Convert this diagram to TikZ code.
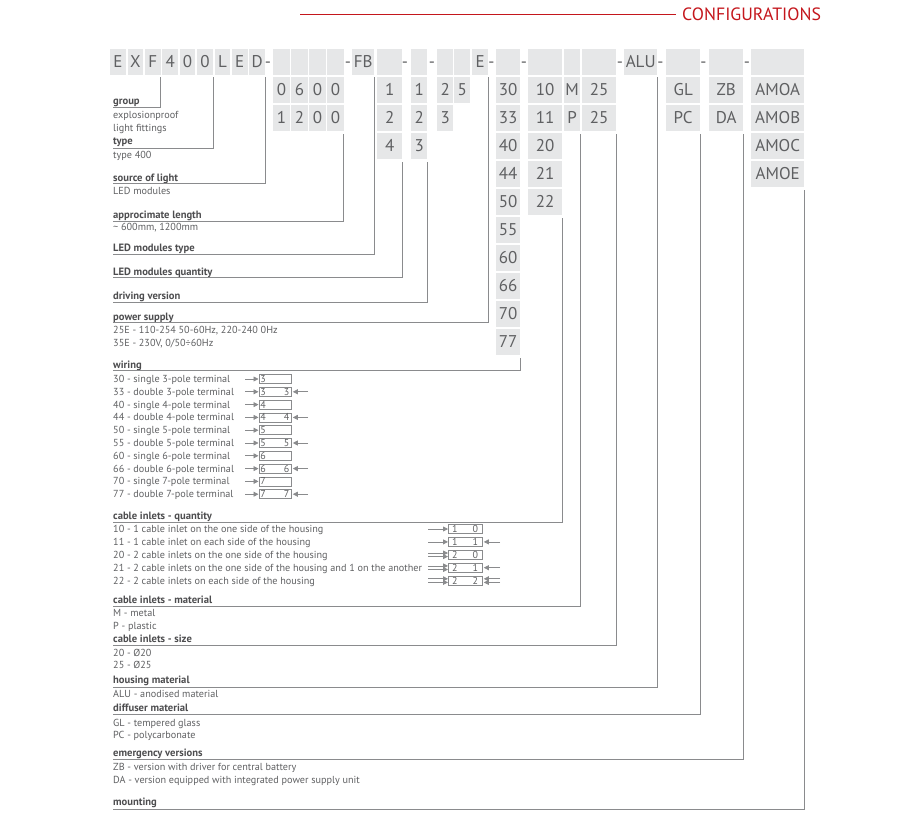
\documentclass[tikz,border=0pt]{standalone}
\usepackage{fontspec}
\setmainfont{PT Sans}
\usetikzlibrary{arrows.meta}
\definecolor{txt}{HTML}{5F6062}
\definecolor{hdtxt}{HTML}{4D4D4F}
\definecolor{boxc}{HTML}{E6E7E8}
\definecolor{lin}{HTML}{8A8B8D}
\definecolor{redc}{HTML}{C4161C}
\newcommand\cell[5]{\node[cell,minimum width=#3] (#1) at (#2,#4) {#5};}
\begin{document}
\begin{tikzpicture}[x=1pt,y=-1pt,
  cell/.style={fill=boxc,inner sep=0pt,minimum height=26,text height=11.5pt,text depth=0pt,anchor=north west,text=txt,font=\fontsize{17}{17}\selectfont},
  dashc/.style={anchor=base,inner sep=0pt,text=txt,font=\fontsize{17}{17}\selectfont},
  head/.style={anchor=base west,inner sep=0pt,text=hdtxt,font=\fontsize{10.6}{12}\selectfont\bfseries},
  desc/.style={anchor=base west,inner sep=0pt,text=txt,font=\fontsize{10.2}{12}\selectfont},
  conn/.style={draw=lin,line width=0.9pt},
  wbox/.style={draw=lin,line width=0.8pt,minimum width=32,minimum height=9,inner sep=0pt,anchor=west,text=txt,font=\fontsize{10}{10}\selectfont},
  cbox/.style={wbox,minimum width=33.5},
  arr/.style={draw=lin,line width=0.8pt,-{Triangle[length=5pt,width=5pt]}},
]
\useasboundingbox (0,0) rectangle (905,832);

% title
\node[anchor=base west,inner sep=0pt,text=redc,font=\fontsize{17.8}{17.8}\selectfont] (conf) at (682,20.7) {CONFIGURATIONS};
\coordinate (rl) at (300,14);
\coordinate (re) at (676,14);
\draw[redc,line width=0.8pt] (rl) -- (re);

% header row
\foreach \c [count=\i from 0] in {E,X,F,4,0,0,L,E,D} {\cell{h\i}{110+17.4*\i}{15.6}{49}{\c}}
\foreach \i in {0,...,3} {\cell{hl\i}{273+18*\i}{16.5}{49}{}}
\foreach \c [count=\i from 0] in {0,6,0,0} {\cell{la\i}{273+18*\i}{16.5}{77}{\c}}
\foreach \c [count=\i from 0] in {1,2,0,0} {\cell{lb\i}{273+18*\i}{16.5}{105}{\c}}
\cell{hFB}{352}{22}{49}{FB}
\cell{hT}{377}{25}{49}{}
\foreach \c [count=\r] in {1,2,4} {\cell{T\r}{377}{25}{49+28*\r}{\c}}
\cell{hQ}{411}{16}{49}{}
\foreach \c [count=\r] in {1,2,3} {\cell{Q\r}{411}{16}{49+28*\r}{\c}}
\cell{hDa}{437}{16}{49}{}
\foreach \c [count=\r] in {2,3} {\cell{Da\r}{437}{16}{49+28*\r}{\c}}
\cell{hDb}{454}{16}{49}{}
\cell{Db1}{454}{16}{77}{5}
\cell{hE}{472}{16}{49}{E}
\cell{hW}{496}{24}{49}{}
\foreach \c [count=\r] in {30,33,40,44,50,55,60,66,70,77} {\cell{W\r}{496}{24}{49+28*\r}{\c}}
\cell{hC}{528}{34}{49}{}
\foreach \c [count=\r] in {10,11,20,21,22} {\cell{C\r}{528}{34}{49+28*\r}{\c}}
\cell{hM}{564}{16}{49}{}
\foreach \c [count=\r] in {M,P} {\cell{M\r}{564}{16}{49+28*\r}{\c}}
\cell{hS}{582}{34}{49}{}
\foreach \c [count=\r] in {25,25} {\cell{S\r}{582}{34}{49+28*\r}{\c}}
\cell{hALU}{624}{33}{49}{ALU}
\cell{hG}{666}{34}{49}{}
\foreach \c [count=\r] in {GL,PC} {\cell{G\r}{666}{34}{49+28*\r}{\c}}
\cell{hZ}{709}{34}{49}{}
\foreach \c [count=\r] in {ZB,DA} {\cell{Z\r}{709}{34}{49+28*\r}{\c}}
\cell{hA}{751}{53}{49}{}
\foreach \c [count=\r] in {AMOA,AMOB,AMOC,AMOE} {\cell{A\r}{751}{53}{49+28*\r}{\c}}

% dashes
\foreach \x [count=\i] in {268,348,405,432,491.5,524,620,660.5,703.5,747} {\node[dashc] (dash\i) at (\x,67.7) {-};}

% labels
\node[head] (tgroup) at (113,105) {group};
\node[desc] (tgroup1) at (113,119) {explosionproof};
\node[desc] (tgroup2) at (113,132) {light fittings};
\node[head] (ttype) at (113,145) {type};
\node[desc] (ttype1) at (113,158) {type 400};
\node[head] (tsrc) at (113,181) {source of light};
\node[desc] (tsrc1) at (113,194) {LED modules};
\node[head] (tlen) at (113,218) {approcimate length};
\node[desc] (tlen1) at (113,230) {\textasciitilde{} 600mm, 1200mm};
\node[head] (tledt) at (113,251) {LED modules type};
\node[head] (tledq) at (113,275) {LED modules quantity};
\node[head] (tdrv) at (113,299) {driving version};
\node[head] (tpow) at (113,320) {power supply};
\node[desc] (tpow1) at (113,333.5) {25E - 110-254 50-60Hz, 220-240 0Hz};
\node[desc] (tpow2) at (113,346.5) {35E - 230V, 0/50÷60Hz};
\node[head] (twir) at (113,368) {wiring};
\node[head] (tcq) at (113,519) {cable inlets - quantity};
\node[head] (tcm) at (113,603) {cable inlets - material};
\node[desc] (tcm1) at (113,616.5) {M - metal};
\node[desc] (tcm2) at (113,629) {P - plastic};
\node[head] (tcs) at (113,642) {cable inlets - size};
\node[desc] (tcs1) at (113,656) {20 - Ø20};
\node[desc] (tcs2) at (113,668.5) {25 - Ø25};
\node[head] (thm) at (113,683.5) {housing material};
\node[desc] (thm1) at (113,697) {ALU - anodised material};
\node[head] (tdm) at (113,711.5) {diffuser material};
\node[desc] (tdm1) at (113,726) {GL - tempered glass};
\node[desc] (tdm2) at (113,738.5) {PC - polycarbonate};
\node[head] (tem) at (113,756) {emergency versions};
\node[desc] (tem1) at (113,770.5) {ZB - version with driver for central battery};
\node[desc] (tem2) at (113,783.5) {DA - version equipped with integrated power supply unit};
\node[head] (tmnt) at (113,805.5) {mounting};

% wiring rows
\foreach \kk/\knd/\pp/\dbl [count=\i] in {30/single/3/0,33/double/3/1,40/single/4/0,44/double/4/1,50/single/5/0,55/double/5/1,60/single/6/0,66/double/6/1,70/single/7/0,77/double/7/1}{
  \pgfmathsetmacro\yb{379+12.8*(\i-1)}
  \node[desc] (wt\i) at (113,\yb+3.5) {\kk{} - \knd{} \pp-pole terminal};
  \node[wbox] (wb\i) at (258.5,\yb) {\hbox to 29pt{\pp\hfill\ifnum\dbl=1 \pp\fi}};
  \coordinate (wl\i) at (245,\yb);
  \draw[arr] (wl\i) -- (wb\i.west);
  \ifnum\dbl=1
    \coordinate (wr\i) at (308,\yb);
    \draw[arr] (wr\i) -- ([xshift=1.5pt]wb\i.east);
  \fi
}

% cable inlets rows
\foreach \kk/\dsc/\ld/\rd/\la/\ra [count=\i] in {
10/1 cable inlet on the one side of the housing/1/0/1/0,
11/1 cable inlet on each side of the housing/1/1/1/1,
20/2 cable inlets on the one side of the housing/2/0/2/0,
21/2 cable inlets on the one side of the housing and 1 on the another/2/1/2/1,
22/2 cable inlets on each side of the housing/2/2/2/2}{
  \pgfmathsetmacro\yc{529+12.9*(\i-1)}
  \node[desc] (ct\i) at (113,\yc+3.5) {\kk{} - \dsc};
  \node[cbox] (cb\i) at (448,\yc) {\hbox to 26pt{\ld\hfill\rd}};
  \coordinate (cl\i) at (428,\yc);
  \coordinate (cr\i) at (500,\yc);
  \ifnum\la=1
    \draw[arr] (cl\i) -- (cb\i.west);
  \else
    \draw[arr] ([yshift=1.8pt]cl\i) -- ([yshift=1.8pt]cb\i.west);
    \draw[arr] ([yshift=-1.8pt]cl\i) -- ([yshift=-1.8pt]cb\i.west);
  \fi
  \ifnum\ra=1
    \draw[arr] (cr\i) -- ([xshift=1.5pt]cb\i.east);
  \fi
  \ifnum\ra=2
    \draw[arr] ([yshift=1.8pt]cr\i) -- ([xshift=1.5pt,yshift=1.8pt]cb\i.east);
    \draw[arr] ([yshift=-1.8pt]cr\i) -- ([xshift=1.5pt,yshift=-1.8pt]cb\i.east);
  \fi
}

% connector end points
\coordinate (cgroup) at (113,107.5);
\coordinate (ctype) at (113,148);
\coordinate (csrc) at (113,183.5);
\coordinate (clen) at (113,221);
\coordinate (cledt) at (113,254);
\coordinate (cledq) at (113,277.5);
\coordinate (cdrv) at (113,302);
\coordinate (cpow) at (113,322.5);
\coordinate (cwir) at (113,370.5);
\coordinate (ccq) at (113,522);
\coordinate (ccm) at (113,606);
\coordinate (ccs) at (113,645.5);
\coordinate (chm) at (113,687);
\coordinate (cdm) at (113,714.5);
\coordinate (cem) at (113,759);
\coordinate (cmnt) at (113,809.5);

\draw[conn] ([yshift=-2pt]h2.south east) |- (cgroup);
\draw[conn] ([yshift=-2pt]h5.south east) |- (ctype);
\draw[conn] ([yshift=-2pt]h8.south east) |- (csrc);
\draw[conn] ([yshift=-3pt]lb3.south east) |- (clen);
\draw[conn] ([yshift=-2pt]hFB.south east) |- (cledt);
\draw[conn] ([yshift=-3pt]T3.south east) |- (cledq);
\draw[conn] ([yshift=-3pt]Q3.south east) |- (cdrv);
\draw[conn] ([yshift=-2pt]hE.south east) |- (cpow);
\draw[conn] ([yshift=-3pt]W10.south east) |- (cwir);
\draw[conn] ([yshift=-3pt]C5.south east) |- (ccq);
\draw[conn] ([yshift=-3pt]M2.south east) |- (ccm);
\draw[conn] ([yshift=-3pt]S2.south east) |- (ccs);
\draw[conn] ([yshift=-2pt]hALU.south east) |- (chm);
\draw[conn] ([yshift=-3pt]G2.south east) |- (cdm);
\draw[conn] ([yshift=-3pt]Z2.south east) |- (cem);
\draw[conn] ([yshift=-3pt]A4.south east) |- (cmnt);
\end{tikzpicture}
\end{document}
